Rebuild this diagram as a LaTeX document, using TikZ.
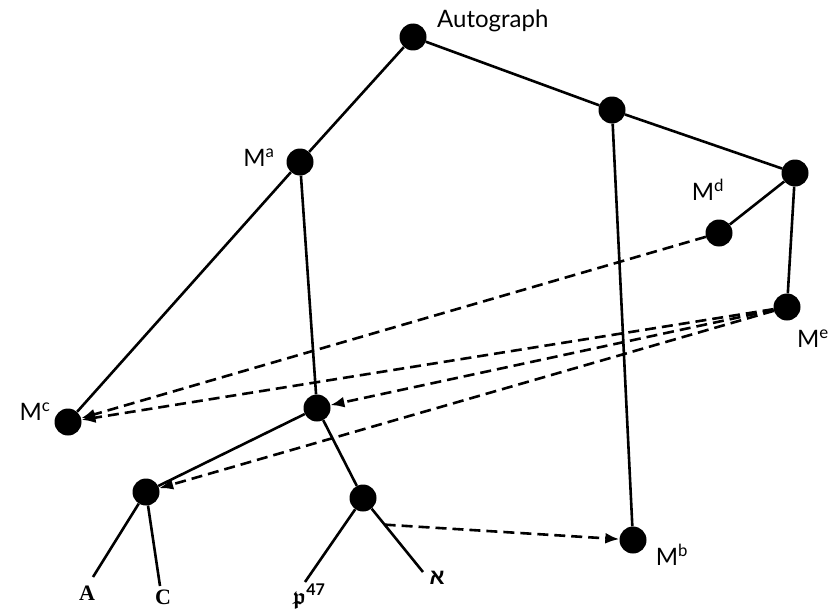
\documentclass[tikz,border=0pt]{standalone}
\usepackage{amssymb}
\usepackage{fontspec}
\setmainfont{Liberation Serif}
\newfontfamily\labfont{Lato}
\newfontfamily\hebfont[Script=Hebrew]{Liberation Sans}
\usetikzlibrary{arrows.meta,calc}
\begin{document}
\begin{tikzpicture}[x=1pt,y=-1pt,
  dot/.style={circle,fill=black,inner sep=0pt,minimum size=27pt},
  edge/.style={line width=2.6pt},
  darrow/.style={line width=2.6pt,dash pattern=on 11pt off 6pt,-{Latex[length=14pt,width=11pt]}},
  lab/.style={font=\labfont\fontsize{24}{24}\selectfont,inner sep=0pt},
  leaf/.style={font=\bfseries\fontsize{22}{22}\selectfont,inner sep=0pt}]
\useasboundingbox (0,0) rectangle (837,610);
% nodes
\node[dot] (auto) at (413,37) {};
\node[dot] (b) at (612,110) {};
\node[dot] (r) at (795,173) {};
\node[dot] (md) at (719,233) {};
\node[dot] (me) at (787,307) {};
\node[dot] (ma) at (300,162) {};
\node[dot] (mc) at (68,422) {};
\node[dot] (mid) at (317,408) {};
\node[dot] (left) at (146,492) {};
\node[dot] (bot) at (363,498) {};
\node[dot] (mb) at (633,540) {};
\coordinate (ea) at (93,577);
\coordinate (ec) at (160,586);
\coordinate (ep) at (305,582);
\coordinate (ex) at (423,572);
% labels
\node[lab,anchor=west] (lauto) at (437,21) {Autograph};
\node[lab] (lma) at (259,158) {M\textsuperscript{a}};
\node[lab] (lmc) at (35,412) {M\textsuperscript{c}};
\node[lab] (lmd) at (708,190) {M\textsuperscript{d}};
\node[lab] (lme) at (813,339) {M\textsuperscript{e}};
\node[lab] (lmb) at (672,555) {M\textsuperscript{b}};
\node[leaf] (la) at (87,593) {A};
\node[leaf] (lc) at (163,597) {C};
\node[inner sep=0pt] (lp) at (309,596) {\fontsize{23}{23}\selectfont{\boldmath$\mathfrak{p}$}\textsuperscript{\labfont\bfseries 47}};
\node[inner sep=0pt] (lx) at (437,578) {\hebfont\bfseries\fontsize{22}{22}\selectfont א};
% solid edges
\draw[edge] (auto) -- (ma);
\draw[edge] (auto) -- (b);
\draw[edge] (b) -- (r);
\draw[edge] (b) -- (mb);
\draw[edge] (r) -- (md);
\draw[edge] (r) -- (me);
\draw[edge] (ma) -- (mc);
\draw[edge] (ma) -- (mid);
\draw[edge] (mid) -- (left);
\draw[edge] (mid) -- (bot);
\draw[edge] (left) -- (ea);
\draw[edge] (left) -- (ec);
\draw[edge] (bot) -- (ep);
\draw[edge] (bot) -- (ex);
\coordinate (s) at ($(bot)!0.36!(ex)$);
% dashed arrows
\draw[darrow] (md) -- (mc);
\draw[darrow] (me) -- (mc);
\draw[darrow] (me) -- (mid);
\draw[darrow] (me) -- (left);
\draw[darrow] (s) -- (mb);
\end{tikzpicture}
\end{document}
